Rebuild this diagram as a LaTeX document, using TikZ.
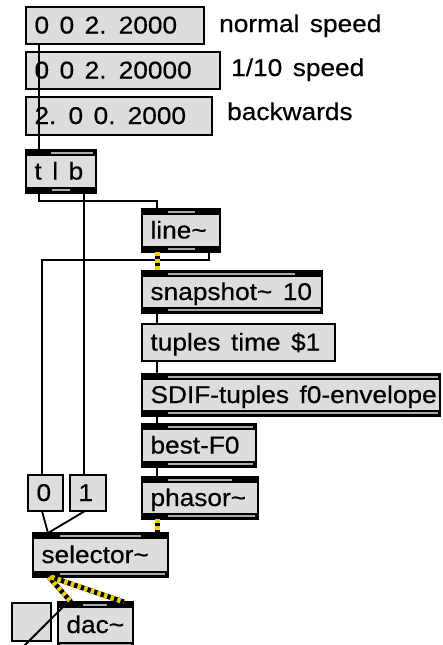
\documentclass[tikz,border=0pt]{standalone}
\usepackage{fontspec}
\setmainfont{Liberation Sans}[FakeStretch=1.08, FakeBold=0.5]
\usetikzlibrary{calc}
\definecolor{boxgray}{RGB}{221,221,221}
\definecolor{bargray}{RGB}{170,170,170}
\definecolor{cordyellow}{RGB}{238,206,0}
\newcommand\pdfont{\fontsize{24.3pt}{28pt}\selectfont\spaceskip=10.5pt\xspaceskip=10.5pt\relax}
\newcommand\pdbox[7][]{%
  \pgfmathsetmacro\pdtw{#5-17}%
  \node[pdbase,#1,minimum width=#5pt,minimum height=#6pt,text width=\pdtw pt] (#2) at (#3,#4) {\spaceskip=10.5pt\relax\rlap{#7}};}
% bands: name, top seg a, top seg b, bottom seg a, bottom seg b (offsets from left edge)
\newcommand\pdbands[5]{%
  \fill[black] (#1.north west) rectangle ($(#1.north east)+(0,6)$);
  \fill[bargray] ($(#1.north west)+(#2,2)$) rectangle ($(#1.north west)+(#3,4)$);
  \fill[black] ($(#1.south west)+(0,-6)$) rectangle (#1.south east);
  \fill[bargray] ($(#1.south west)+(#4,-4)$) rectangle ($(#1.south west)+(#5,-2)$);}
\begin{document}
\begin{tikzpicture}[x=1pt,y=-1pt,
  pdbase/.style={draw, line width=1.6pt, fill=boxgray, anchor=north west,
    inner xsep=8.5pt, inner ysep=0pt, outer sep=0pt, align=left,
    font=\pdfont, text height=16pt, text depth=0pt},
  lbl/.style={anchor=base west, inner sep=0pt, font=\pdfont},
  wire/.style={line width=1.8pt},
  sig/.style={line width=5pt, draw=black,
    postaction={draw=cordyellow, line width=5pt, dash pattern=on 3.5pt off 3.5pt}}]
\useasboundingbox (0,0) rectangle (443,645);
\fill[white] (0,0) rectangle (443,645);
\clip (0,0) rectangle (443,645);

% message boxes
\pdbox{m1}{26}{7}{178}{37}{0 0 2. 2000}
\pdbox{m2}{26}{52}{194}{37}{0 0 2. 20000}
\pdbox{m3}{26}{97}{186}{38}{2. 0 0. 2000}
\pdbox{tuples}{142}{324}{193}{37}{tuples time \$1}
\pdbox{zero}{28}{475}{35}{36}{0}
\pdbox{one}{70}{475}{36}{36}{1}

% comments
\node[lbl] (lab1) at (219,32) {\spaceskip=10.5pt\relax normal speed};
\node[lbl] (lab2) at (231,76) {\spaceskip=10.5pt\relax 1/10 speed};
\node[lbl] (lab3) at (227,120) {backwards};

% object boxes
\pdbox{tlb}{26}{150}{70}{43}{t l b}
\pdbands{tlb}{25}{67}{26}{44}
\pdbox{line}{142}{209}{78}{43}{line\textasciitilde}
\pdbands{line}{26}{53}{26}{53}
\pdbox{snap}{142}{271}{180}{42}{snapshot\textasciitilde{} 10}
\pdbands{snap}{26}{153}{26}{178}
\pdbox{sdif}{142}{374}{298}{42}{SDIF-tuples f0-envelope}
\pdbands{sdif}{26}{296}{26}{296}
\pdbox{best}{142}{424}{114}{43}{best-F0}
\pdbands{best}{26}{111}{26}{111}
\pdbox{phasor}{142}{477}{116}{42}{phasor\textasciitilde}
\pdbands{phasor}{26}{90}{26}{113}
\pdbox{sel}{33}{533}{135}{44}{selector\textasciitilde}
\pdbands{sel}{27}{108}{27}{132}
\pdbox{dac}{58}{602}{75}{46}{dac\textasciitilde}
\pdbands{dac}{25}{49}{2}{73}
\node[pdbase, minimum width=39pt, minimum height=38pt] (tog) at (12,603) {};

% control connections
\draw[wire] ($(m1.south west)+(13,0)$) -- ($(tlb.north west)+(13,0)$);
\draw[wire] ($(tlb.south west)+(13,0)$) -- ++(0,8) -| ($(line.north west)+(15,0)$);
\draw[wire] ($(tlb.south west)+(58,0)$) -- ($(one.north west)+(14,0)$);
\draw[wire] ($(line.south east)+(-11,0)$) -- ++(0,8) -| ($(zero.north west)+(14,0)$);
\draw[wire] ($(snap.south west)+(15,0)$) -- ($(tuples.north west)+(15,0)$);
\draw[wire] ($(tuples.south west)+(15,0)$) -- ($(sdif.north west)+(15,0)$);
\draw[wire] ($(sdif.south west)+(15,0)$) -- ($(best.north west)+(15,0)$);
\draw[wire] ($(best.south west)+(15,0)$) -- ($(phasor.north west)+(15,0)$);
\draw[wire] ($(zero.south west)+(14,0)$) -- ($(sel.north west)+(15,0)$);
\draw[wire] ($(one.south west)+(15,0)$) -- ($(sel.north west)+(15,0)$);
\coordinate (offpage) at (22,648);
\draw[wire] (offpage) -- ($(dac.north west)+(10,0)$);

% signal connections
\draw[sig] ($(line.south west)+(15,0)$) -- ($(snap.north west)+(15,0)$);
\draw[sig] ($(phasor.south west)+(15,0)$) -- ($(sel.north east)+(-11,0)$);
\draw[sig] ($(sel.south west)+(16,0)$) -- ($(dac.north west)+(13,0)$);
\draw[sig] ($(sel.south west)+(18,0)$) -- ($(dac.north east)+(-9,0)$);
\end{tikzpicture}
\end{document}
